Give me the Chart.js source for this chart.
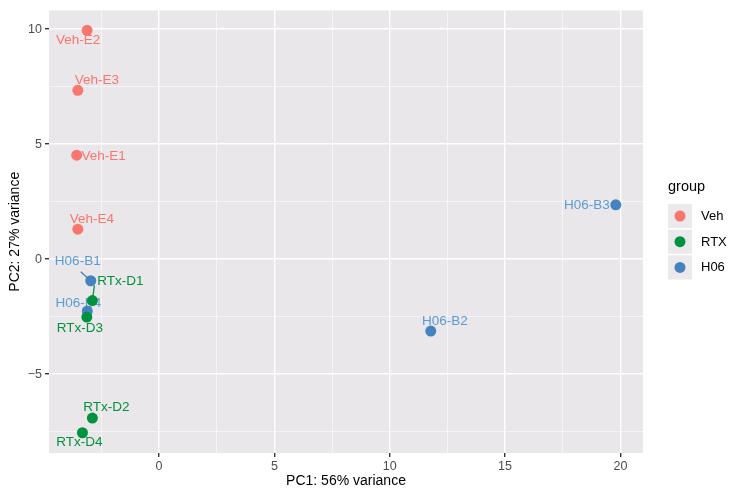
<!DOCTYPE html>
<html><head><meta charset="utf-8">
<script src="https://cdn.jsdelivr.net/npm/chart.js@4.4.0/dist/chart.umd.min.js"></script>
<style>html,body{margin:0;padding:0;background:#fff;} #wrap{width:742px;height:495px;position:relative;}</style>
</head><body><div id="wrap"><canvas id="c"></canvas></div>
<script>
// ---- data ----
const groups = ["Veh", "RTX", "H06"];
const vehNames = ["Veh-E1", "Veh-E2", "Veh-E3", "Veh-E4"];
const vehPC1 = [-3.57, -3.12, -3.52, -3.52];
const vehPC2 = [4.52, 9.95, 7.34, 1.30];
const rtxNames = ["RTx-D1", "RTx-D2", "RTx-D3", "RTx-D4"];
const rtxPC1 = [-2.89, -2.89, -3.13, -3.32];
const rtxPC2 = [-1.80, -6.91, -2.52, -7.55];
const h06Names = ["H06-B1", "H06-B2", "H06-B3", "H06-B4"];
const h06PC1 = [-2.96, 11.78, 19.80, -3.11];
const h06PC2 = [-0.94, -3.13, 2.36, -2.26];
const xMajorTicks = [0, 5, 10, 15, 20];
const yMajorTicks = [-5, 0, 5, 10];
const xTitle = "PC1: 56% variance";
const yTitle = "PC2: 27% variance";
const legendTitle = "group";

// ---- styling (kept apart from the data) ----
const pointColors = {Veh: "#F8766D", RTX: "#00923F", H06: "#4682C0"};
const textColors = {Veh: "#F8766D", RTX: "#00923F", H06: "#5C9BD6"};
// label text offsets from the point (px), as placed by the repel layout
const labelOffsets = {
  "Veh-E1": [27, 1], "Veh-E2": [-9, 10], "Veh-E3": [19, -10], "Veh-E4": [14, -10],
  "RTx-D1": [28, -19], "RTx-D2": [14, -11], "RTx-D3": [-7, 11], "RTx-D4": [-3, 10],
  "H06-B1": [-13, -19], "H06-B2": [14, -10], "H06-B3": [-29, 0], "H06-B4": [-9, -8]
};
const labelSegments = {"H06-B1": [-10, -9], "RTx-D1": [2, -15]};

function pts(xs, ys) { return xs.map((x, i) => ({x: x, y: ys[i]})); }
const seriesNames = [vehNames, rtxNames, h06Names];
const datasets = [
  {label: groups[0], data: pts(vehPC1, vehPC2)},
  {label: groups[1], data: pts(rtxPC1, rtxPC2)},
  {label: groups[2], data: pts(h06PC1, h06PC2)}
].map(d => Object.assign(d, {
  backgroundColor: pointColors[d.label], borderWidth: 0,
  pointRadius: 5.5, pointHoverRadius: 5.5
}));

const FONT = "'Liberation Sans', Arial, sans-serif";
const PANEL_BG = "#E9E7E9";

function minorTicks(lo, hi) {
  const out = [];
  for (let v = Math.ceil(lo / 2.5) * 2.5; v <= hi + 1e-9; v += 2.5) out.push({value: v});
  return out;
}
function isMajor(v) { return Math.abs(v / 5 - Math.round(v / 5)) < 1e-6; }
function fmt(v) { return v < 0 ? "\u2212" + Math.abs(v) : String(v); }

const panelBg = {
  id: "panelBg",
  beforeDraw(chart) {
    const a = chart.chartArea, ctx = chart.ctx;
    ctx.save(); ctx.fillStyle = PANEL_BG;
    ctx.fillRect(a.left, a.top, a.right - a.left, a.bottom - a.top);
    ctx.restore();
  }
};

const pointLabels = {
  id: "pointLabels",
  beforeDatasetsDraw(chart) {
    const ctx = chart.ctx;
    ctx.save();
    ctx.font = "13.5px " + FONT;
    ctx.textAlign = "center"; ctx.textBaseline = "middle";
    chart.data.datasets.forEach((ds, di) => {
      const meta = chart.getDatasetMeta(di);
      meta.data.forEach((el, i) => {
        const name = seriesNames[di][i];
        const seg = labelSegments[name];
        if (seg) {
          ctx.strokeStyle = pointColors[ds.label]; ctx.lineWidth = 1.3;
          ctx.beginPath(); ctx.moveTo(el.x, el.y); ctx.lineTo(el.x + seg[0], el.y + seg[1]); ctx.stroke();
        }
        const off = labelOffsets[name] || [0, -12];
        ctx.fillStyle = textColors[ds.label];
        ctx.fillText(name, el.x + off[0], el.y + off[1]);
      });
    });
    ctx.restore();
  }
};

const customLegend = {
  id: "customLegend",
  afterDraw(chart) {
    const ctx = chart.ctx;
    const x0 = 668, keyW = 24, keyH = 24, y0 = 204;
    ctx.save();
    ctx.fillStyle = "#000"; ctx.textAlign = "left"; ctx.textBaseline = "middle";
    ctx.font = "14.5px " + FONT;
    ctx.fillText(legendTitle, x0, 187);
    ctx.font = "13px " + FONT;
    groups.forEach((g, i) => {
      const top = y0 + i * 25.7;
      ctx.fillStyle = "#EBE9EB";
      ctx.fillRect(x0, top, keyW, keyH);
      ctx.fillStyle = pointColors[g];
      ctx.beginPath(); ctx.arc(x0 + 12, top + 12, 5.5, 0, Math.PI * 2); ctx.fill();
      ctx.fillStyle = "#000";
      ctx.fillText(g, x0 + 33, top + 12.5);
    });
    ctx.restore();
  }
};

function gridOpts() {
  return {
    color: c => isMajor(c.tick.value) ? "#FFFFFF" : "rgba(255,255,255,0.85)",
    lineWidth: c => isMajor(c.tick.value) ? 1.4 : 0.7,
    tickColor: c => isMajor(c.tick.value) ? "#333333" : "rgba(0,0,0,0)",
    tickWidth: 1.4, tickLength: 4, drawTicks: true
  };
}

new Chart(document.getElementById("c"), {
  type: "scatter",
  data: {datasets: datasets},
  options: {
    responsive: true, maintainAspectRatio: false, animation: false,
    layout: {padding: {top: 7, right: 99, left: 0, bottom: 0}},
    plugins: {legend: {display: false}, tooltip: {enabled: false}},
    scales: {
      x: {
        type: "linear", min: -4.77, max: 20.98,
        afterBuildTicks: s => { s.ticks = minorTicks(s.min, s.max); },
        afterFit: s => { s.height = 42; },
        border: {display: false},
        grid: gridOpts(),
        ticks: {autoSkip: false, maxRotation: 0, padding: 2, color: "#4D4D4D",
          font: {family: FONT, size: 12.5},
          callback: v => xMajorTicks.includes(v) ? fmt(v) : ""},
        title: {display: true, text: xTitle, color: "#000",
          font: {family: FONT, size: 14}, padding: {top: 0, bottom: 5}}
      },
      y: {
        type: "linear", min: -8.43, max: 10.81,
        afterBuildTicks: s => { s.ticks = minorTicks(s.min, s.max); },
        afterFit: s => { s.width = 49; },
        border: {display: false},
        grid: gridOpts(),
        ticks: {autoSkip: false, padding: 3, color: "#4D4D4D",
          font: {family: FONT, size: 12.5},
          callback: v => yMajorTicks.includes(v) ? fmt(v) : ""},
        title: {display: true, text: yTitle, color: "#000",
          font: {family: FONT, size: 14}, padding: {top: 7, bottom: 0}}
      }
    }
  },
  plugins: [panelBg, pointLabels, customLegend]
});
</script></body></html>
